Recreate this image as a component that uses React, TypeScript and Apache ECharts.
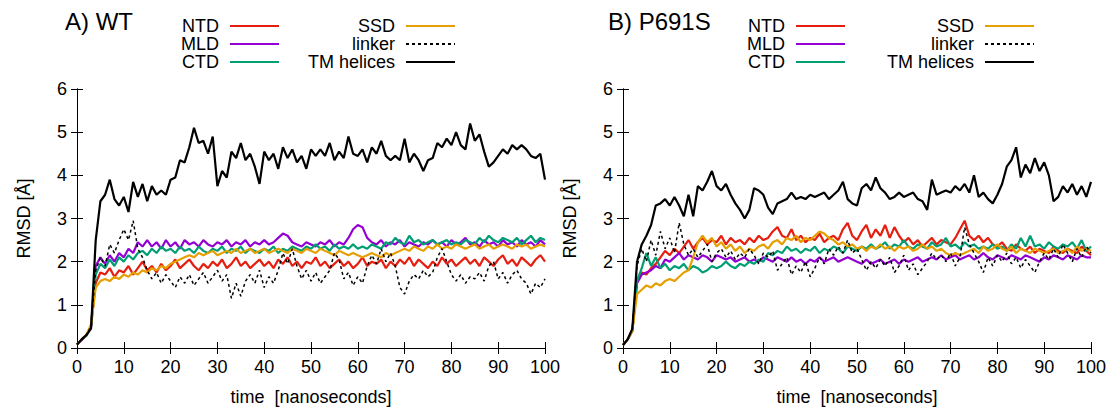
import React, { useEffect, useRef } from "react";
import * as echarts from "echarts";

const TIME: number[] = Array.from({ length: 101 }, (_, i) => i);
const SERIES_NAMES = ["NTD", "MLD", "CTD", "SSD", "linker", "TM helices"];
const COLORS = ["#e51e10", "#9400d3", "#009e73", "#e69f00", "#000000", "#000000"];

// Panel A) WT
const A_NTD = [0.08,0.2,0.3,0.5,1.5,1.75,1.7,1.85,1.65,1.8,1.75,1.9,1.7,1.85,2.0,1.8,1.9,1.75,1.95,1.8,1.9,2.05,1.85,1.95,2.05,1.9,1.8,1.95,1.85,2.0,1.9,2.05,1.85,1.95,2.1,1.9,2.0,1.85,1.95,2.05,1.9,2.0,1.85,2.05,1.95,2.1,1.9,2.0,1.85,2.0,1.95,2.1,1.9,2.0,1.85,1.95,2.05,1.9,2.0,1.85,1.95,2.1,1.9,2.0,1.95,2.05,1.85,2.0,1.9,2.05,1.95,2.1,1.9,2.05,1.95,1.85,2.0,1.9,2.1,1.95,2.05,1.9,2.0,2.1,1.95,2.05,1.9,2.1,2.0,1.9,2.05,2.15,1.95,2.05,1.9,2.1,2.0,1.9,2.05,2.15,2.0];
const A_MLD = [0.08,0.18,0.3,0.5,1.9,2.1,1.95,2.15,2.0,2.2,2.1,2.3,2.2,2.45,2.35,2.5,2.35,2.45,2.3,2.5,2.35,2.45,2.3,2.5,2.4,2.45,2.35,2.5,2.4,2.35,2.45,2.4,2.5,2.35,2.45,2.4,2.5,2.35,2.45,2.4,2.5,2.4,2.45,2.55,2.65,2.6,2.45,2.4,2.35,2.45,2.4,2.35,2.45,2.4,2.5,2.35,2.45,2.4,2.55,2.75,2.85,2.8,2.55,2.45,2.4,2.5,2.35,2.45,2.4,2.5,2.35,2.45,2.4,2.35,2.45,2.4,2.5,2.4,2.45,2.35,2.5,2.4,2.45,2.55,2.4,2.45,2.35,2.5,2.4,2.45,2.35,2.5,2.4,2.45,2.35,2.5,2.4,2.45,2.35,2.5,2.4];
const A_CTD = [0.08,0.2,0.28,0.5,1.7,1.95,1.85,2.05,1.9,2.1,2.0,2.15,2.05,2.2,2.25,2.15,2.3,2.2,2.35,2.25,2.3,2.2,2.35,2.25,2.3,2.2,2.35,2.25,2.2,2.3,2.25,2.35,2.2,2.3,2.25,2.35,2.2,2.3,2.25,2.2,2.3,2.25,2.35,2.2,2.3,2.25,2.35,2.3,2.25,2.35,2.3,2.4,2.3,2.35,2.25,2.4,2.3,2.35,2.3,2.4,2.3,2.35,2.3,2.4,2.35,2.3,2.45,2.4,2.55,2.45,2.4,2.6,2.45,2.5,2.4,2.45,2.5,2.4,2.45,2.5,2.4,2.45,2.4,2.5,2.45,2.4,2.55,2.45,2.6,2.5,2.45,2.55,2.5,2.45,2.55,2.4,2.5,2.6,2.45,2.55,2.5];
const A_SSD = [0.08,0.2,0.3,0.55,1.4,1.55,1.6,1.55,1.65,1.6,1.7,1.65,1.75,1.7,1.8,1.75,1.85,1.8,1.9,1.85,1.95,2.0,2.05,2.1,2.15,2.1,2.2,2.15,2.2,2.25,2.15,2.2,2.25,2.2,2.3,2.2,2.25,2.3,2.2,2.25,2.3,2.2,2.25,2.3,2.25,2.2,2.3,2.25,2.2,2.3,2.25,2.2,2.3,2.25,2.2,2.15,2.25,2.2,2.15,2.2,2.15,2.1,2.15,2.2,2.15,2.1,2.2,2.15,2.2,2.25,2.3,2.25,2.35,2.3,2.25,2.35,2.3,2.4,2.3,2.35,2.3,2.4,2.35,2.3,2.35,2.4,2.3,2.35,2.4,2.3,2.35,2.4,2.35,2.3,2.4,2.35,2.4,2.3,2.35,2.4,2.35];
const A_LINK = [0.08,0.2,0.3,0.5,1.8,2.1,1.9,2.4,2.2,2.5,2.75,2.5,2.95,2.3,2.1,1.8,1.6,1.75,1.5,1.7,1.55,1.4,1.65,1.5,1.7,1.45,1.6,1.75,1.5,1.65,1.8,1.55,1.7,1.15,1.5,1.2,1.55,1.7,1.5,1.8,1.4,1.65,1.5,1.8,2.2,1.95,2.3,1.9,1.6,1.8,1.55,1.75,1.5,1.65,1.8,2.2,2.05,1.6,1.75,1.45,1.65,1.5,1.9,2.15,1.95,2.3,2.0,2.2,1.9,1.4,1.25,1.55,1.7,1.6,1.8,1.65,1.75,2.1,2.3,2.0,1.7,1.55,1.7,1.5,1.65,1.6,1.75,1.55,1.9,2.0,1.6,1.75,1.5,1.7,1.8,1.6,1.5,1.25,1.5,1.4,1.6];
const A_TM = [0.08,0.2,0.3,0.45,2.5,3.4,3.55,3.9,3.45,3.3,3.5,3.15,3.85,3.5,3.8,3.4,3.75,3.55,3.65,3.55,3.9,3.95,4.35,4.3,4.65,5.1,4.75,4.8,4.5,4.9,3.75,4.1,3.95,4.55,4.4,4.75,4.35,4.5,4.2,3.8,4.55,4.35,4.5,4.15,4.65,4.4,4.6,4.3,4.45,4.15,4.6,4.45,4.6,4.45,4.75,4.35,4.55,4.4,4.9,4.5,4.45,4.6,4.3,4.65,4.5,4.8,4.45,4.35,4.45,4.35,4.85,4.3,4.5,4.35,4.1,4.35,4.4,4.75,4.65,4.85,4.7,5.0,4.7,4.6,5.2,4.8,4.95,4.55,4.2,4.3,4.45,4.6,4.5,4.7,4.6,4.7,4.6,4.45,4.4,4.5,3.9];

// Panel B) P691S
const B_NTD = [0.07,0.2,0.4,1.6,1.75,1.7,1.85,1.95,2.1,2.25,2.15,2.3,2.2,2.35,2.5,2.3,2.45,2.55,2.4,2.5,2.45,2.6,2.4,2.55,2.45,2.5,2.4,2.55,2.45,2.6,2.5,2.55,2.7,2.8,2.6,2.55,2.75,2.5,2.6,2.45,2.55,2.5,2.65,2.45,2.55,2.6,2.5,2.75,2.9,2.6,2.5,2.7,2.85,2.55,2.75,2.6,2.85,2.55,2.8,2.6,2.45,2.55,2.4,2.5,2.35,2.45,2.55,2.4,2.5,2.45,2.4,2.55,2.75,2.95,2.6,2.5,2.6,2.45,2.55,2.4,2.35,2.45,2.3,2.25,2.4,2.3,2.25,2.35,2.2,2.3,2.25,2.2,2.35,2.25,2.2,2.3,2.25,2.2,2.35,2.25,2.15];
const B_MLD = [0.07,0.2,0.4,1.5,1.7,1.75,1.8,1.9,1.85,2.05,2.0,2.1,2.2,2.05,2.15,2.1,2.05,2.15,2.1,2.0,2.15,2.1,2.05,2.1,2.0,2.05,2.1,2.0,2.05,2.0,2.1,2.05,2.0,2.1,2.05,2.0,2.1,2.0,2.05,1.95,2.05,2.0,2.1,2.0,2.05,2.1,2.0,2.05,2.1,2.05,2.0,1.95,2.05,1.95,2.0,2.05,1.95,2.0,2.05,1.95,2.05,2.0,2.05,2.1,2.0,2.05,2.1,2.05,2.15,2.05,2.1,2.15,2.05,2.1,2.15,2.05,2.1,2.2,2.1,2.05,2.15,2.1,2.05,2.15,2.1,2.05,2.15,2.1,2.05,2.0,2.1,2.05,2.15,2.1,2.05,2.15,2.1,2.05,2.15,2.1,2.1];
const B_CTD = [0.07,0.2,0.4,1.55,1.85,2.2,1.9,2.1,1.85,1.95,1.8,1.9,1.85,1.95,1.8,1.9,1.85,1.75,1.8,1.9,1.85,1.9,2.0,1.9,1.85,1.95,1.9,2.0,1.95,2.05,2.0,2.2,2.15,2.25,2.2,2.35,2.25,2.3,2.2,2.3,2.25,2.35,2.2,2.3,2.25,2.35,2.3,2.2,2.35,2.3,2.25,2.35,2.3,2.4,2.3,2.35,2.45,2.3,2.4,2.35,2.5,2.35,2.3,2.4,2.35,2.3,2.45,2.35,2.4,2.55,2.35,2.4,2.3,2.45,2.35,2.4,2.3,2.35,2.3,2.4,2.3,2.35,2.25,2.4,2.3,2.55,2.35,2.6,2.35,2.4,2.3,2.45,2.35,2.3,2.4,2.35,2.45,2.3,2.5,2.25,2.35];
const B_SSD = [0.07,0.2,0.4,1.25,1.35,1.45,1.4,1.5,1.45,1.55,1.6,1.55,1.65,1.75,1.8,2.1,2.45,2.6,2.45,2.55,2.35,2.45,2.3,2.4,2.25,2.35,2.2,2.3,2.25,2.35,2.4,2.3,2.45,2.5,2.4,2.55,2.5,2.6,2.45,2.55,2.5,2.6,2.7,2.65,2.55,2.5,2.4,2.45,2.35,2.4,2.3,2.35,2.25,2.35,2.3,2.4,2.3,2.35,2.25,2.35,2.3,2.35,2.25,2.3,2.4,2.3,2.35,2.25,2.3,2.2,2.15,2.2,2.15,2.2,2.25,2.3,2.2,2.35,2.25,2.3,2.4,2.3,2.25,2.35,2.2,2.3,2.25,2.2,2.3,2.25,2.2,2.25,2.3,2.2,2.25,2.3,2.2,2.35,2.25,2.3,2.25];
const B_LINK = [0.07,0.2,0.45,1.9,2.3,2.0,2.5,2.15,2.7,2.3,2.55,2.2,2.9,2.4,2.15,2.3,2.1,2.25,2.4,2.0,2.2,2.3,2.1,2.25,2.05,2.2,2.1,2.3,2.15,1.95,2.2,2.1,2.25,1.8,1.95,2.1,1.7,1.9,1.75,2.0,1.65,1.85,2.1,1.95,2.3,2.15,2.35,2.2,2.5,2.2,2.3,2.05,1.8,2.0,1.85,2.05,1.9,2.1,1.75,1.9,2.15,1.8,1.95,1.7,1.85,2.0,2.2,2.05,2.15,2.0,2.2,1.9,2.1,2.8,2.4,2.2,2.0,1.75,2.1,1.9,2.15,2.0,2.2,1.95,2.1,1.85,2.05,1.9,1.75,2.0,2.2,2.05,2.3,2.1,2.4,2.2,2.0,2.3,2.1,2.35,2.2];
const B_TM = [0.07,0.2,0.45,2.0,2.4,2.6,2.85,3.3,3.35,3.45,3.3,3.5,3.3,3.05,3.55,3.05,3.75,3.65,3.85,4.1,3.75,3.65,3.8,3.55,3.35,3.2,3.0,3.2,3.7,3.65,3.55,3.25,3.1,3.35,3.4,3.45,3.6,3.45,3.5,3.45,3.55,3.5,3.55,3.6,3.45,3.55,3.65,3.85,3.45,3.35,3.3,3.7,3.8,3.65,3.95,3.7,3.6,3.45,3.5,3.6,3.5,3.55,3.6,3.45,3.4,3.2,3.9,3.55,3.6,3.65,3.6,3.75,3.65,3.8,3.6,4.0,3.5,3.6,3.45,3.35,3.55,3.8,4.2,4.35,4.65,3.95,4.25,4.05,4.4,4.1,4.3,4.0,3.4,3.5,3.75,3.6,3.8,3.55,3.75,3.5,3.85];

const PANEL_A = [A_NTD, A_MLD, A_CTD, A_SSD, A_LINK, A_TM];
const PANEL_B = [B_NTD, B_MLD, B_CTD, B_SSD, B_LINK, B_TM];
const TITLES = ["A) WT", "B) P691S"];

const FONT = "Liberation Sans, Arial, sans-serif";

export default function App() {
  const ref = useRef<HTMLDivElement>(null);
  useEffect(() => {
    if (!ref.current) return;
    const chart = echarts.init(ref.current, undefined, { renderer: "svg" });
    const gridLefts = [77, 623];
    const grids = gridLefts.map((l) => ({
      left: l, top: 89, width: 468, height: 259, containLabel: false, outerBoundsMode: "none",
    }));
    const xAxes: any[] = [];
    const yAxes: any[] = [];
    const axisLine = { show: true, lineStyle: { color: "#000", width: 1 } };
    const tick = { show: true, inside: true, length: 6, lineStyle: { color: "#000" } };
    [0, 1].forEach((g) => {
      xAxes.push({
        type: "value", gridIndex: g, min: 0, max: 100, interval: 10, position: "bottom",
        axisLine, axisTick: tick, splitLine: { show: false },
        axisLabel: { color: "#000", fontSize: 18, fontFamily: FONT, margin: 10 },
        name: "time  [nanoseconds]", nameLocation: "middle", nameGap: 40,
        nameTextStyle: { color: "#000", fontSize: 18, fontFamily: FONT },
      });
      xAxes.push({
        type: "value", gridIndex: g, min: 0, max: 100, interval: 10, position: "top",
        axisLine, axisTick: tick, splitLine: { show: false }, axisLabel: { show: false },
      });
      yAxes.push({
        type: "value", gridIndex: g, min: 0, max: 6, interval: 1, position: "left",
        axisLine, axisTick: tick, splitLine: { show: false },
        axisLabel: { color: "#000", fontSize: 18, fontFamily: FONT, margin: 10 },
        name: "RMSD [Å]", nameLocation: "middle", nameGap: 44, nameRotate: 90,
        nameTextStyle: { color: "#000", fontSize: 18, fontFamily: FONT },
      });
      yAxes.push({
        type: "value", gridIndex: g, min: 0, max: 6, interval: 1, position: "right",
        axisLine, axisTick: tick, splitLine: { show: false }, axisLabel: { show: false },
      });
    });
    const series: any[] = [];
    [PANEL_A, PANEL_B].forEach((panel, g) => {
      panel.forEach((vals, i) => {
        const isLink = SERIES_NAMES[i] === "linker";
        series.push({
          type: "line",
          name: SERIES_NAMES[i],
          xAxisIndex: g * 2,
          yAxisIndex: g * 2,
          data: TIME.map((t, k) => [t, vals[k]]),
          symbol: "none",
          showSymbol: false,
          lineStyle: {
            color: COLORS[i],
            width: isLink ? 1.5 : 2.2,
            type: isLink ? [3, 3] : "solid",
          },
          itemStyle: { color: COLORS[i] },
          z: 2 + i,
        });
      });
    });
    const legendBase = {
      orient: "vertical", align: "right", itemWidth: 49, itemHeight: 14, itemGap: 0,
      padding: 0, top: 17, selectedMode: false,
      itemStyle: { opacity: 0 },
      textStyle: { color: "#000", fontSize: 18, fontFamily: FONT, padding: [0, 6, 0, 0] },
    };
    const legends = [
      { ...legendBase, right: 1111 - 280, data: ["NTD", "MLD", "CTD"] },
      { ...legendBase, right: 1111 - 456, data: ["SSD", "linker", "TM helices"] },
      { ...legendBase, right: 1111 - 846, data: ["NTD", "MLD", "CTD"] },
      { ...legendBase, right: 1111 - 1035, data: ["SSD", "linker", "TM helices"] },
    ];
    chart.setOption({
      animation: false,
      backgroundColor: "#fff",
      grid: grids,
      xAxis: xAxes,
      yAxis: yAxes,
      legend: legends,
      series,
      graphic: [
        { type: "text", left: 65, top: 9, style: { text: TITLES[0], fontSize: 24, fontFamily: FONT, fill: "#000" } },
        { type: "text", left: 608, top: 9, style: { text: TITLES[1], fontSize: 24, fontFamily: FONT, fill: "#000" } },
      ],
    });
    return () => chart.dispose();
  }, []);
  return <div ref={ref} style={{ position: "absolute", left: 0, top: 0, width: 1111, height: 407 }} />;
}
